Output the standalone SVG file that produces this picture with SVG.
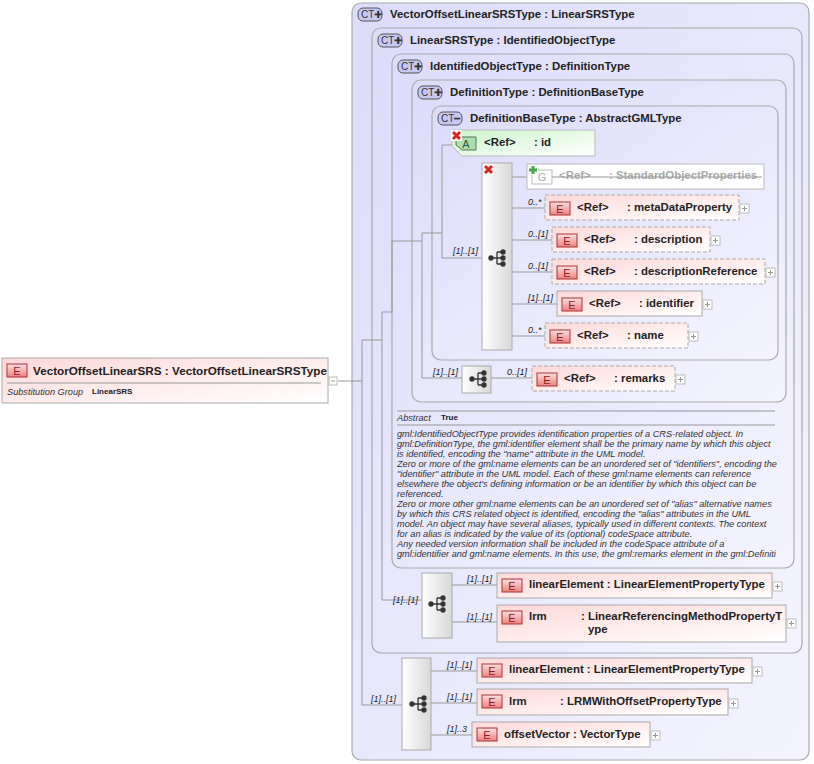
<svg xmlns="http://www.w3.org/2000/svg" width="814" height="764" viewBox="0 0 814 764">
<defs>
<linearGradient id="gb" x1="0" y1="0" x2="1" y2="1"><stop offset="0" stop-color="#dcdcfb"/><stop offset="1" stop-color="#f4f4ff"/></linearGradient>
<linearGradient id="ge" x1="0" y1="0" x2="1" y2="1"><stop offset="0" stop-color="#ffd8d8"/><stop offset="1" stop-color="#ffffff"/></linearGradient>
<linearGradient id="ga" x1="0" y1="0" x2="1" y2="1"><stop offset="0" stop-color="#ccf5cc"/><stop offset="1" stop-color="#ffffff"/></linearGradient>
<linearGradient id="gs" x1="0" y1="0" x2="1" y2="0"><stop offset="0" stop-color="#ffffff"/><stop offset="1" stop-color="#d8d8d8"/></linearGradient>
<linearGradient id="gi" x1="0" y1="0" x2="0" y2="1"><stop offset="0" stop-color="#fbe0e0"/><stop offset="1" stop-color="#f08080"/></linearGradient>
<g id="seqicon" fill="#333" stroke="#333" stroke-width="1.3"><circle cx="-6" cy="0" r="2"/><path d="M-6 0H0M0 -6V6M0 -6H5M0 0H5M0 6H5" fill="none"/><circle cx="6" cy="-6" r="2"/><circle cx="6" cy="0" r="2"/><circle cx="6" cy="6" r="2"/></g>
<g id="plus"><rect x="0" y="0" width="9" height="9" fill="#fff" stroke="#bbb"/><path d="M2 4.5H7M4.5 2V7" stroke="#999"/></g>
<g id="eicon"><rect x="0" y="0" width="20" height="13" fill="url(#gi)" stroke="#a33"/><text x="10" y="11" class="ic">E</text></g>
<g id="xicon"><rect x="0" y="0" width="11" height="11" fill="#fff"/><path d="M2 2L9 9M9 2L2 9" stroke="#d22" stroke-width="3"/></g>
</defs>
<style>
.box{stroke:#aaa;stroke-width:1.2}
.t{font-family:"Liberation Sans",Arial,sans-serif;font-size:11.4px;font-weight:bold;fill:#222}
.ic{font-family:"Liberation Sans",Arial,sans-serif;font-size:11px;fill:#822;text-anchor:middle}
.c{font-family:"Liberation Sans",Arial,sans-serif;font-size:9px;font-style:italic;fill:#222}
.d{font-family:"Liberation Sans",Arial,sans-serif;font-size:9.2px;font-style:italic;fill:#333}
.el{fill:url(#ge);stroke:#aaa}
.dash{stroke-dasharray:4,2}
.ln{stroke:#999;fill:none;stroke-width:1}
.seq{fill:url(#gs);stroke:#aaa}
.ct{fill:#c8c8f4;stroke:#555;stroke-width:1}
.ctt{font-family:"Liberation Sans",Arial,sans-serif;font-size:10px;fill:#333}
</style>

<g id="ct1"><rect x="352" y="3" width="457" height="757" rx="9" fill="url(#gb)" class="box"/>
<rect x="358" y="8" width="24" height="13" rx="5" class="ct"/><text x="361" y="18" class="ctt">CT✚</text>
<text x="390" y="18" class="t">VectorOffsetLinearSRSType : LinearSRSType</text></g>
<g id="ct2"><rect x="372" y="28" width="430" height="625" rx="9" fill="url(#gb)" class="box"/>
<rect x="378" y="34" width="24" height="13" rx="5" class="ct"/><text x="381" y="44" class="ctt">CT✚</text>
<text x="410" y="44" class="t">LinearSRSType : IdentifiedObjectType</text></g>
<g id="ct3"><rect x="392" y="54" width="402" height="514" rx="9" fill="url(#gb)" class="box"/>
<rect x="398" y="60" width="24" height="13" rx="5" class="ct"/><text x="401" y="70" class="ctt">CT✚</text>
<text x="430" y="70" class="t">IdentifiedObjectType : DefinitionType</text>
<path d="M397 411H775M397 425H775" stroke="#999"/>
<text x="397" y="421" class="d">Abstract</text><text x="441" y="420" class="t" style="font-size:8px">True</text>
<text class="d"><tspan x="397" y="437">gml:IdentifiedObjectType provides identification properties of a CRS-related object. In</tspan><tspan x="397" y="447">gml:DefinitionType, the gml:identifier element shall be the primary name by which this object</tspan><tspan x="397" y="457">is identified, encoding the "name" attribute in the UML model.</tspan><tspan x="397" y="467">Zero or more of the gml:name elements can be an unordered set of "identifiers", encoding the</tspan><tspan x="397" y="477">"identifier" attribute in the UML model. Each of these gml:name elements can reference</tspan><tspan x="397" y="487">elsewhere the object's defining information or be an identifier by which this object can be</tspan><tspan x="397" y="497">referenced.</tspan><tspan x="397" y="507">Zero or more other gml:name elements can be an unordered set of "alias" alternative names</tspan><tspan x="397" y="517">by which this CRS related object is identified, encoding the "alias" attributes in the UML</tspan><tspan x="397" y="527">model. An object may have several aliases, typically used in different contexts. The context</tspan><tspan x="397" y="537">for an alias is indicated by the value of its (optional) codeSpace attribute.</tspan><tspan x="397" y="547">Any needed version information shall be included in the codeSpace attribute of a</tspan><tspan x="397" y="557">gml:identifier and gml:name elements. In this use, the gml:remarks element in the gml:Definiti</tspan></text></g>
<g id="ct4"><rect x="412" y="80" width="374" height="322" rx="9" fill="url(#gb)" class="box"/>
<rect x="418" y="86" width="24" height="13" rx="5" class="ct"/><text x="421" y="96" class="ctt">CT✚</text>
<text x="450" y="96" class="t">DefinitionType : DefinitionBaseType</text></g>
<g id="ct5"><rect x="432" y="106" width="346" height="254" rx="9" fill="url(#gb)" class="box"/>
<rect x="438" y="112" width="24" height="13" rx="5" class="ct"/><text x="441" y="122" class="ctt">CT━</text>
<text x="470" y="122" class="t">DefinitionBaseType : AbstractGMLType</text></g>

<g id="connectors">
<path class="ln" d="M338 381H362M362 340V705H402M362 340H382M382 312V600H422M382 312H392M392 241V312M392 241H422M422 233V378H462M422 233H442M442 145V258H482M442 145H455"/>
<path class="ln" d="M512 177H527M512 208H545M512 240H552M512 272H552M512 304H557M512 336H545M491 378H532"/>
<path class="ln" d="M452 585H497M452 622H497M431 671H477M431 703H477M431 735H472"/>
<text x="453" y="254" class="c">[1]..[1]</text>
<text x="528" y="205" class="c">0..*</text><text x="528" y="237" class="c">0..[1]</text><text x="528" y="269" class="c">0..[1]</text><text x="528" y="301" class="c">[1]..[1]</text><text x="528" y="333" class="c">0..*</text>
<text x="433" y="375" class="c">[1]..[1]</text><text x="507" y="375" class="c">0..[1]</text>
<text x="393" y="603" class="c">[1]..[1]</text><text x="467" y="582" class="c">[1]..[1]</text><text x="467" y="620" class="c">[1]..[1]</text>
<text x="371" y="702" class="c">[1]..[1]</text><text x="447" y="668" class="c">[1]..[1]</text><text x="447" y="700" class="c">[1]..[1]</text><text x="447" y="732" class="c">[1]..3</text>
</g>

<g id="root"><rect x="2" y="358" width="326" height="45" fill="url(#ge)" stroke="#aaa"/>
<use href="#eicon" x="7" y="364"/><text x="33" y="375" class="t" style="font-size:11.7px">VectorOffsetLinearSRS : VectorOffsetLinearSRSType</text>
<path d="M7 383H321" stroke="#999"/><text x="7" y="395" class="d">Substitution Group</text><text x="92" y="394" class="t" style="font-size:8px">LinearSRS</text>
<rect x="329" y="377" width="8" height="8" fill="#fff" stroke="#bbb"/><path d="M331 381H335" stroke="#999"/></g>

<g id="attr-id"><path d="M452 130H595V156H462L452 146Z" fill="url(#ga)" stroke="#bbb"/>
<path d="M456 137H476V150H462L456 145Z" fill="#aedeae" stroke="#575"/><text x="466" y="148" class="ic" style="fill:#353">A</text>
<use href="#xicon" x="451" y="130"/><text x="484" y="146" class="t">&lt;Ref&gt;</text><text x="534" y="146" class="t">: id</text></g>

<g id="seq1"><rect x="482" y="163" width="30" height="187" class="seq"/><use href="#xicon" x="483" y="164"/><use href="#seqicon" x="497" y="258"/></g>
<g id="grp"><rect x="527" y="164" width="237" height="25" fill="#fff" stroke="#bbb"/>
<rect x="532" y="170" width="20" height="14" fill="#fff" stroke="#bbb"/><text x="542" y="181" class="ic" style="fill:#aaa">G</text>
<rect x="528" y="165" width="10" height="10" fill="#fff"/><path d="M533 166V174M529 170H537" stroke="#4a4" stroke-width="3"/>
<text x="559" y="179" class="t" style="fill:#aaa">&lt;Ref&gt;</text><text x="609" y="179" class="t" style="fill:#aaa">: StandardObjectProperties</text>
<path d="M552 177H762" stroke="#999"/></g>
<g id="metaDataProperty"><rect x="545" y="195" width="194" height="25" class="el dash"/><use href="#eicon" x="550" y="202"/><text x="577" y="211" class="t">&lt;Ref&gt;</text><text x="627" y="211" class="t">: metaDataProperty</text><use href="#plus" x="740" y="204"/></g>
<g id="description"><rect x="552" y="227" width="158" height="25" class="el dash"/><use href="#eicon" x="557" y="234"/><text x="584" y="243" class="t">&lt;Ref&gt;</text><text x="634" y="243" class="t">: description</text><use href="#plus" x="711" y="236"/></g>
<g id="descriptionReference"><rect x="552" y="259" width="213" height="25" class="el dash"/><use href="#eicon" x="557" y="266"/><text x="584" y="275" class="t">&lt;Ref&gt;</text><text x="634" y="275" class="t">: descriptionReference</text><use href="#plus" x="766" y="268"/></g>
<g id="identifier"><rect x="557" y="291" width="145" height="25" class="el"/><use href="#eicon" x="562" y="298"/><text x="589" y="307" class="t">&lt;Ref&gt;</text><text x="639" y="307" class="t">: identifier</text><use href="#plus" x="703" y="300"/></g>
<g id="name"><rect x="545" y="323" width="143" height="25" class="el dash"/><use href="#eicon" x="550" y="330"/><text x="577" y="339" class="t">&lt;Ref&gt;</text><text x="627" y="339" class="t">: name</text><use href="#plus" x="689" y="332"/></g>

<g id="seq2"><rect x="462" y="366" width="29" height="27" class="seq"/><use href="#seqicon" x="478" y="379"/></g>
<g id="remarks"><rect x="532" y="366" width="143" height="25" class="el dash"/><use href="#eicon" x="537" y="373"/><text x="564" y="382" class="t">&lt;Ref&gt;</text><text x="614" y="382" class="t">: remarks</text><use href="#plus" x="676" y="375"/></g>

<g id="seq3"><rect x="422" y="573" width="30" height="65" class="seq"/><use href="#seqicon" x="437" y="604"/></g>
<g id="linearElement1"><rect x="497" y="573" width="275" height="25" class="el"/><use href="#eicon" x="502" y="579"/><text x="529" y="588" class="t">linearElement : LinearElementPropertyType</text><use href="#plus" x="773" y="582"/></g>
<g id="lrm1"><rect x="497" y="605" width="289" height="37" class="el"/><use href="#eicon" x="502" y="611"/><text x="529" y="620" class="t">lrm</text><text x="581" y="620" class="t">: LinearReferencingMethodPropertyT</text><text x="588" y="633" class="t">ype</text><use href="#plus" x="787" y="619"/></g>

<g id="seq4"><rect x="402" y="658" width="29" height="92" class="seq"/><use href="#seqicon" x="418" y="704"/></g>
<g id="linearElement2"><rect x="477" y="658" width="275" height="25" class="el"/><use href="#eicon" x="482" y="664"/><text x="509" y="673" class="t">linearElement : LinearElementPropertyType</text><use href="#plus" x="753" y="667"/></g>
<g id="lrm2"><rect x="477" y="689" width="251" height="26" class="el"/><use href="#eicon" x="482" y="695"/><text x="509" y="705" class="t">lrm</text><text x="560" y="705" class="t">: LRMWithOffsetPropertyType</text><use href="#plus" x="729" y="699"/></g>
<g id="offsetVector"><rect x="472" y="722" width="178" height="25" class="el"/><use href="#eicon" x="477" y="728"/><text x="504" y="738" class="t">offsetVector : VectorType</text><use href="#plus" x="651" y="731"/></g>
</svg>
